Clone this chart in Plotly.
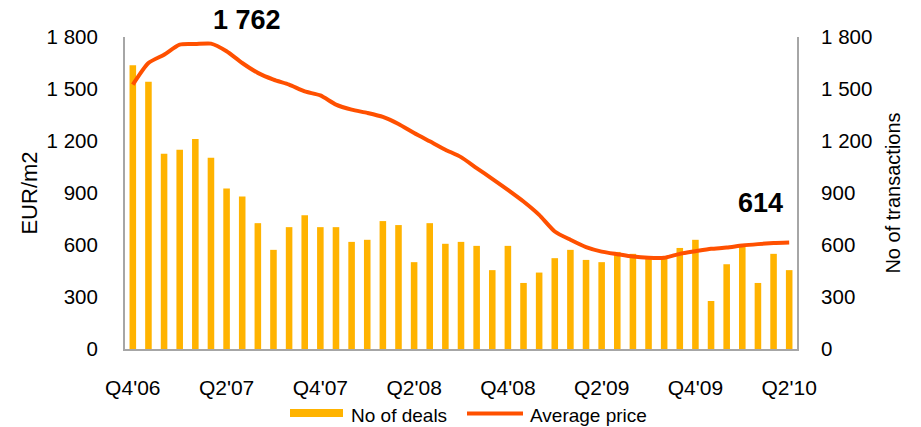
import plotly.graph_objects as go

# ---- data ----
months = [
    "Oct'06", "Nov'06", "Dec'06",
    "Jan'07", "Feb'07", "Mar'07", "Apr'07", "May'07", "Jun'07", "Jul'07", "Aug'07", "Sep'07", "Oct'07", "Nov'07", "Dec'07",
    "Jan'08", "Feb'08", "Mar'08", "Apr'08", "May'08", "Jun'08", "Jul'08", "Aug'08", "Sep'08", "Oct'08", "Nov'08", "Dec'08",
    "Jan'09", "Feb'09", "Mar'09", "Apr'09", "May'09", "Jun'09", "Jul'09", "Aug'09", "Sep'09", "Oct'09", "Nov'09", "Dec'09",
    "Jan'10", "Feb'10", "Mar'10", "Apr'10",
]
tick_months = ["Oct'06", "Apr'07", "Oct'07", "Apr'08", "Oct'08", "Apr'09", "Oct'09", "Apr'10"]
tick_labels = ["Q4'06", "Q2'07", "Q4'07", "Q2'08", "Q4'08", "Q2'09", "Q4'09", "Q2'10"]

deals = [1637, 1542, 1127, 1150, 1211, 1103, 926, 880, 726, 572, 703, 772, 703, 703, 618,
         630, 738, 715, 501, 726, 607, 618, 595, 455, 595, 381, 441, 524, 572, 514,
         501, 560, 549, 535, 530, 583, 630, 277, 489, 595, 381, 549, 455]
avg_price = [1525, 1650, 1698, 1756, 1759, 1762, 1718, 1650, 1593, 1554, 1525, 1486, 1463, 1410, 1381,
             1362, 1339, 1298, 1246, 1198, 1150, 1107, 1044, 982, 918, 851, 774, 678, 630, 588,
             562, 547, 533, 526, 526, 549, 564, 578, 585, 597, 605, 611, 614]

y_ticks = [0, 300, 600, 900, 1200, 1500, 1800]
y_ticktext = ["0", "300", "600", "900", "1 200", "1 500", "1 800"]

peak_label = "1 762"
last_label = "614"

BAR_COLOR = "#FFB300"
LINE_COLOR = "#FF5000"
AXIS_COLOR = "#A6A6A6"
FONT = "Liberation Sans, Arial, sans-serif"

# the page body has an 8px default margin: lay out in screen pixels, then offset
OFF = 8
W, H = 921, 427
SL, SR, ST, SB = 125, 797, 37, 349          # plot area in screen pixels
L, T = SL - OFF, ST - OFF
R, B = W - (SR - OFF), H - (SB - OFF)
PW, PH = SR - SL, SB - ST


def px(x):
    return (x - SL) / PW


def py(y):
    return (SB - y) / PH


fig = go.Figure()
fig.add_trace(go.Bar(x=months, y=deals, name="No of deals", marker_color=BAR_COLOR,
                     marker_line_width=0, yaxis="y", showlegend=False))
fig.add_trace(go.Scatter(x=months, y=avg_price, name="Average price", mode="lines",
                         line=dict(color=LINE_COLOR, width=4, shape="spline", smoothing=0.6),
                         yaxis="y2", showlegend=False))

fig.update_layout(
    width=W, height=H,
    margin=dict(l=L, r=R, t=T, b=B, autoexpand=False),
    paper_bgcolor="white", plot_bgcolor="white",
    font=dict(family=FONT, color="black", size=20),
    bargap=0.58,
    xaxis=dict(type="category", range=[-0.5, len(months) - 0.5], automargin=False,
               tickvals=tick_months, ticktext=tick_labels, showgrid=False,
               showline=True, linecolor=AXIS_COLOR, linewidth=2,
               ticks="", ticklabelstandoff=19, tickfont=dict(size=21)),
    yaxis=dict(range=[0, 1800], tickvals=y_ticks, ticktext=y_ticktext, showgrid=False,
               automargin=False,
               zeroline=False, showline=True, linecolor=AXIS_COLOR, linewidth=2,
               ticks="", ticklabelstandoff=21, tickfont=dict(size=20.5),
               title=dict(text="EUR/m2", font=dict(size=22), standoff=3)),
    yaxis2=dict(range=[0, 1800], tickvals=y_ticks, ticktext=y_ticktext, showgrid=False,
                automargin=False,
                zeroline=False, showline=True, linecolor=AXIS_COLOR, linewidth=2,
                overlaying="y", side="right", ticks="", ticklabelstandoff=18,
                tickfont=dict(size=20.5),
                title=dict(text="No of transactions", font=dict(size=20), standoff=15)),
)

fig.add_annotation(text="<b>%s</b>" % peak_label, xref="paper", yref="paper",
                   x=px(247), y=py(20), xanchor="center", yanchor="middle",
                   showarrow=False, font=dict(size=27))
fig.add_annotation(text="<b>%s</b>" % last_label, xref="paper", yref="paper",
                   x=px(760), y=py(203), xanchor="center", yanchor="middle",
                   showarrow=False, font=dict(size=27))

# custom legend
fig.add_shape(type="rect", xref="paper", yref="paper", x0=px(290), x1=px(343),
              y0=py(417), y1=py(409), fillcolor=BAR_COLOR, line_width=0)
fig.add_annotation(text="No of deals", xref="paper", yref="paper", x=px(349), y=py(415),
                   xanchor="left", yanchor="middle", showarrow=False, font=dict(size=19))
fig.add_shape(type="line", xref="paper", yref="paper", x0=px(467), x1=px(523),
              y0=py(413.5), y1=py(413.5), line=dict(color=LINE_COLOR, width=4))
fig.add_annotation(text="Average price", xref="paper", yref="paper", x=px(528), y=py(415),
                   xanchor="left", yanchor="middle", showarrow=False, font=dict(size=19))

fig.write_html("out.html")
